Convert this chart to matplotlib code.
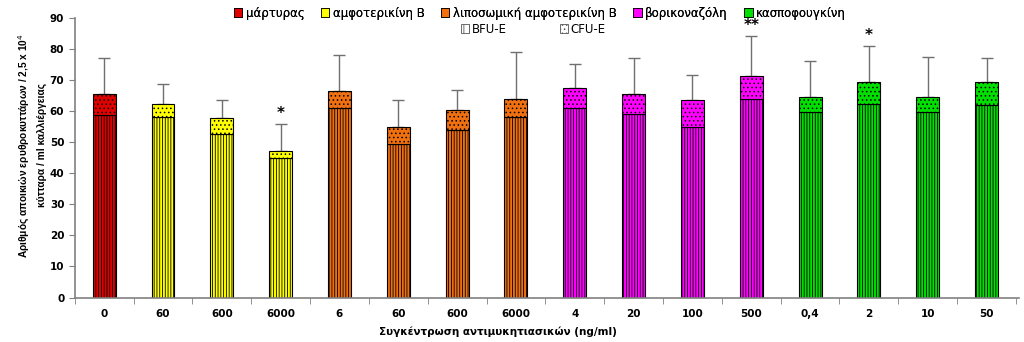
import numpy as np
import matplotlib.pyplot as plt
from matplotlib.patches import Patch

plt.rcParams['font.family'] = ['DejaVu Sans']
plt.rcParams['hatch.linewidth'] = 0.6

# Δεδομένα
conc = ["0", "60", "600", "6000", "6", "60", "600", "6000",
        "4", "20", "100", "500", "0,4", "2", "10", "50"]
bfu = [58.8, 58.3, 52.8, 45.0, 61.0, 49.5, 54.0, 58.0,
       61.0, 59.0, 55.0, 64.0, 59.7, 62.5, 59.7, 62.0]
total = [65.5, 62.2, 57.7, 47.3, 66.4, 55.0, 60.5, 63.8,
         67.5, 65.5, 63.5, 71.5, 64.7, 69.5, 64.7, 69.5]
err_top = [77.2, 68.7, 63.6, 56.0, 78.0, 63.6, 67.0, 79.0,
           75.2, 77.0, 71.8, 84.3, 76.2, 81.0, 77.5, 77.3]
signif = {3: "*", 11: "**", 13: "*"}

groups = ["μάρτυρας", "αμφοτερικίνη Β", "λιποσωμική αμφοτερικίνη Β",
          "βορικοναζόλη", "κασποφουγκίνη"]
group_of_bar = [0, 1, 1, 1, 2, 2, 2, 2, 3, 3, 3, 3, 4, 4, 4, 4]
colors = ["#e00000", "#ffff00", "#f07010", "#ff00ff", "#00e000"]

cfu = [t - b for t, b in zip(total, bfu)]
err = [e - t for e, t in zip(err_top, total)]

fig, ax = plt.subplots(figsize=(10.24, 3.42), dpi=100)
fig.subplots_adjust(left=0.073, right=0.995, top=0.947, bottom=0.13)

x = np.arange(len(conc))
bar_col = [colors[g] for g in group_of_bar]
ax.bar(x, bfu, width=0.39, color=bar_col, edgecolor="black", hatch="||||||",
       linewidth=0.8, zorder=2)
ax.bar(x, cfu, bottom=bfu, width=0.39, color=bar_col, edgecolor="black",
       hatch="....", linewidth=0.8, zorder=2)
ax.errorbar(x, total, yerr=[np.zeros(len(x)), err], fmt="none",
            ecolor="#707070", elinewidth=1, capsize=4, capthick=1, zorder=1)

for i, s in signif.items():
    ax.text(i, err_top[i] + 1, s, ha="center", va="bottom", fontsize=11,
            fontweight="bold")

ax.set_xlim(-0.45, len(conc) - 0.45)
ax.set_ylim(0, 90)
ax.set_yticks(range(0, 91, 10))
ax.set_xticks(x)
ax.set_xticklabels(conc, fontsize=7.5, fontweight="bold")
ax.set_xticks(np.arange(-0.5, len(conc), 1), minor=True)
ax.tick_params(axis="x", which="major", length=0, pad=8)
ax.tick_params(axis="x", which="minor", length=4, color="#808080")
ax.tick_params(axis="y", labelsize=7.5, length=4, color="#808080")
for lbl in ax.get_yticklabels():
    lbl.set_fontweight("bold")
for side in ["top", "right"]:
    ax.spines[side].set_visible(False)
for side in ["left", "bottom"]:
    ax.spines[side].set_color("#808080")
    ax.spines[side].set_linewidth(1.2)

ax.set_xlabel("Συγκέντρωση αντιμυκητιασικών (ng/ml)", fontsize=7.5,
              fontweight="bold", labelpad=6)
ax.xaxis.set_label_coords(0.448, -0.105)
ax.set_ylabel("Αριθμός αποικιών ερυθροκυττάρων / 2,5 x 10$^4$\n"
              "κύτταρα / ml καλλιέργειας", fontsize=7.3, fontweight="bold",
              family=["Liberation Sans", "DejaVu Sans"], linespacing=1.7)
ax.yaxis.set_label_coords(-0.029, 0.545)

h1 = [Patch(facecolor=c, edgecolor="black", linewidth=0.6) for c in colors]
leg1 = fig.legend(h1, groups, loc="upper left", ncol=5,
                  bbox_to_anchor=(0.218, 1.012), frameon=False, fontsize=8.5,
                  handlelength=0.7, handleheight=0.7, handletextpad=0.3,
                  columnspacing=1.4)
h2 = [Patch(facecolor="white", edgecolor="#555555", hatch="|||", linewidth=0.6),
      Patch(facecolor="white", edgecolor="#555555", hatch="....", linewidth=0.6)]
fig.legend(h2, ["BFU-E", "CFU-E"], loc="upper left", ncol=2,
           bbox_to_anchor=(0.44, 0.965), frameon=False, fontsize=8.5,
           handlelength=0.7, handleheight=0.7, handletextpad=0.2,
           columnspacing=4.5)
fig.add_artist(leg1)

fig.savefig("out.png")
